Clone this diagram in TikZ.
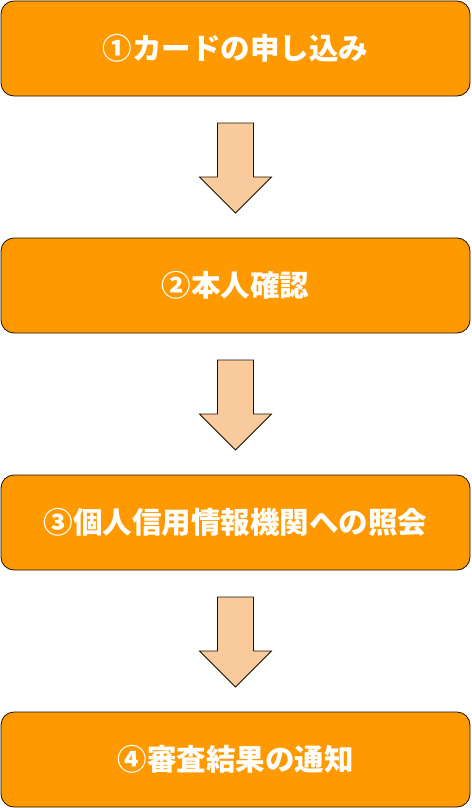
\documentclass[tikz,border=0pt]{standalone}
\usepackage{fontspec}
\newfontfamily\jpfont{Noto Sans CJK JP}
\usepackage{tikz}
\usetikzlibrary{positioning, calc}
\definecolor{stepfill}{HTML}{FF9900}
\definecolor{arrowfill}{HTML}{F9CB9C}
\definecolor{edgecol}{HTML}{1A1000}

\begin{document}
\begin{tikzpicture}[x=1pt, y=1pt,
    stepbox/.style={draw=edgecol, line width=0.8pt, fill=stepfill, rounded corners=13pt,
      minimum width=469pt, minimum height=95pt, outer sep=0pt, inner sep=0pt,
      text=white, font=\jpfont\bfseries\fontsize{29.5}{35}\selectfont},
    blockarrow/.style={draw=edgecol, line width=0.8pt, fill=arrowfill, line join=miter}]
  % adjustable parameters
  \def\gap{142pt}   % distance between boxes
  \def\sw{18pt}     % half shaft width
  \def\hw{36pt}     % half head width
  \def\hl{36pt}     % head length

  \useasboundingbox (0,0) rectangle (471,-808);

  % steps
  \node[stepbox] (b1) at (235.5,-48.5) {①カードの申し込み};
  \node[stepbox, below=\gap of b1] (b2) {②本人確認};
  \node[stepbox, below=\gap of b2] (b3) {③個人信用情報機関への照会};
  \node[stepbox, below=\gap of b3] (b4) {④審査結果の通知};

  % block arrows between steps
  \foreach \a/\b in {b1/b2, b2/b3, b3/b4}
    \draw[blockarrow] let \p1=($(\a.south)+(0,-27)$), \p2=($(\b.north)+(0,25)$) in
      (\x1-\sw,\y1) -- (\x1+\sw,\y1) -- (\x1+\sw,\y2+\hl) -- (\x1+\hw,\y2+\hl)
      -- (\x1,\y2) -- (\x1-\hw,\y2+\hl) -- (\x1-\sw,\y2+\hl) -- cycle;

\end{tikzpicture}
\end{document}
